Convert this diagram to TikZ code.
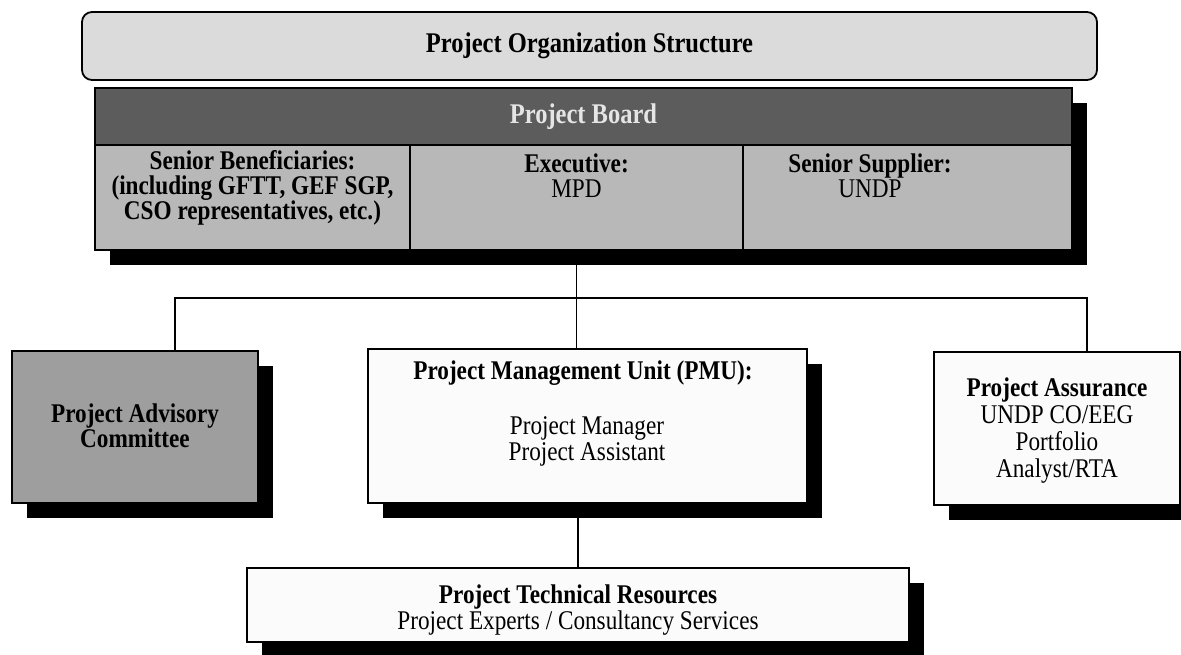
\documentclass[tikz,border=0pt]{standalone}
\usepackage{fontspec}
\setmainfont{Liberation Serif}[FakeStretch=0.86]
\usetikzlibrary{shadows}

\definecolor{titlefill}{gray}{0.86}
\definecolor{bandfill}{gray}{0.36}
\definecolor{cellfill}{gray}{0.72}
\definecolor{advfill}{gray}{0.62}
\definecolor{plainfill}{gray}{0.985}
\definecolor{boardtext}{gray}{0.90}

\begin{document}
\begin{tikzpicture}[x=1pt, y=-1pt,
  box/.style={draw=black, line width=1.8pt, inner sep=0pt, outer sep=0pt},
  cellbox/.style={draw=black, line width=1.3pt, inner sep=0pt, outer sep=0pt},
  dropshadow/.style={general shadow={fill=black, shadow xshift=15pt, shadow yshift=-15pt}},
  txt/.style={font=\fontsize{27}{26}\selectfont, align=center, inner sep=0pt},
  btxt/.style={font=\fontsize{27}{25}\selectfont\bfseries, align=center, inner sep=0pt},
  link/.style={draw=black, line width=1.5pt}]

\useasboundingbox (0,0) rectangle (1181,655);

% title banner
\node[box, rounded corners=10pt, fill=titlefill, minimum width=1015pt, minimum height=68pt,
      font=\fontsize{28.5}{25}\selectfont\bfseries] (title) at (589.5,46) {Project Organization Structure};

% project board: frame, header band and three member cells
\node[box, dropshadow, fill=cellfill, minimum width=977pt, minimum height=162pt] (board) at (583.5,169) {};
\node[cellbox, fill=bandfill, minimum width=977pt, minimum height=57pt,
      font=\fontsize{28.5}{25}\selectfont\bfseries, text=boardtext] (band) at (583.5,116.5) {Project Board};
\node[cellbox, fill=cellfill, minimum width=315pt, minimum height=105pt] (benef) at (252.5,197.5) {};
\node[cellbox, fill=cellfill, minimum width=333pt, minimum height=105pt] (exec) at (576.5,197.5) {};
\node[cellbox, fill=cellfill, minimum width=329pt, minimum height=105pt] (supp) at (907.5,197.5) {};
\draw[line width=1.8pt] (board.north west) rectangle (board.south east);

\node[btxt] (benefText) at (252.5,188) {Senior Beneficiaries:\\(including GFTT, GEF SGP,\\CSO representatives, etc.)};
\node[btxt] (execText) at (576.5,176) {Executive:\\\mdseries MPD};
\node[btxt] (suppText) at (870,176) {Senior Supplier:\\\mdseries UNDP};

% second tier
\node[box, dropshadow, fill=advfill, minimum width=246pt, minimum height=152pt] (adv) at (135,427) {};
\node[btxt] (advText) at (135,426) {Project Advisory\\Committee};

\node[box, dropshadow, fill=plainfill, minimum width=439pt, minimum height=154pt] (pmu) at (587.5,426) {};
\node[btxt] (pmuHead) at (583,373) {Project Management Unit (PMU):};
\node[txt] (pmuText) at (587,441) {Project Manager\\Project Assistant};

\node[box, dropshadow, fill=plainfill, minimum width=246pt, minimum height=153pt] (assur) at (1057,428.5) {};
\node[txt, font=\fontsize{27}{27}\selectfont] (assurText) at (1057,431)
     {\textbf{Project Assurance}\\UNDP CO/EEG\\Portfolio\\Analyst/RTA};

% third tier
\node[box, dropshadow, fill=plainfill, minimum width=662pt, minimum height=74pt] (tech) at (578,605) {};
\node[txt] (techText) at (578,610) {\textbf{Project Technical Resources}\\Project Experts / Consultancy Services};

% reporting lines
\coordinate (hub) at (576.5,298);
\draw[link] (exec.south) -- (exec.south |- pmu.north);
\draw[link] ([xshift=40pt]adv.north) |- (hub) -| ([xshift=30pt]assur.north);
\draw[link] (pmu.south -| tech.north) -- (tech.north);
\end{tikzpicture}
\end{document}
